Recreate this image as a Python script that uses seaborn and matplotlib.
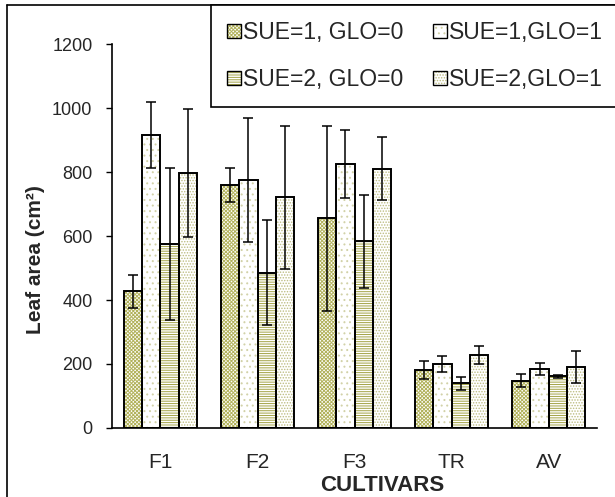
import numpy as np
import pandas as pd
import matplotlib
matplotlib.use('Agg')
import matplotlib.pyplot as plt
import seaborn as sns
from matplotlib.patches import Rectangle, Patch
from matplotlib.lines import Line2D

# values
cultivars = ['F1', 'F2', 'F3', 'TR', 'AV']
groups = ['SUE=1, GLO=0', 'SUE=1,GLO=1', 'SUE=2, GLO=0', 'SUE=2,GLO=1']

g1 = [427, 760, 656, 181, 148]
g2 = [917, 775, 826, 200, 185]
g3 = [575, 486, 584, 139, 161]
g4 = [797, 721, 811, 229, 191]

e1 = [52, 52, 289, 29, 21]
e2 = [103, 193, 106, 26, 19]
e3 = [238, 165, 145, 20, 4]
e4 = [199, 223, 99, 28, 50]

means = [g1, g2, g3, g4]
errs = [e1, e2, e3, e4]

rows = []
for g, vals in zip(groups, means):
    for c, v in zip(cultivars, vals):
        rows.append({'cultivar': c, 'area': v, 'group': g})
df = pd.DataFrame(rows)

sns.set_style('white')
plt.rcParams['font.family'] = ['Liberation Sans', 'DejaVu Sans']
plt.rcParams['hatch.linewidth'] = 0.7

hatches = ['xxxxxxxxx', '...', '-------', '......']
hcolors = ['#b2b25c', '#d2d2a8', '#a3a345', '#bcbc80']

fig, ax = plt.subplots(figsize=(6.15, 4.97), dpi=100)
fig.subplots_adjust(left=0.182, right=0.971, bottom=0.139, top=0.911)

sns.barplot(data=df, x='cultivar', y='area', hue='group', order=cultivars,
            hue_order=groups, errorbar=None, width=0.75, legend=False, ax=ax)

# hatch the bars, outline them in black, add error bars
for cont, h, hc, err in zip(ax.containers, hatches, hcolors, errs):
    xs, ys = [], []
    for bar in cont:
        bar.set_facecolor('white')
        bar.set_edgecolor(hc)
        bar.set_hatch(h)
        bar.set_linewidth(0)
        ax.add_patch(Rectangle((bar.get_x(), 0), bar.get_width(), bar.get_height(),
                               fill=False, edgecolor='black', linewidth=1.4, zorder=3))
        xs.append(bar.get_x() + bar.get_width() / 2)
        ys.append(bar.get_height())
    ax.errorbar(xs, ys, yerr=err, fmt='none', ecolor='black', elinewidth=1.1,
                capsize=3.6, capthick=1.1, zorder=4)

ax.set_ylim(0, 1200)
ax.set_yticks(range(0, 1201, 200))
ax.set_xlim(-0.5, 4.5)
ax.set_xticks(np.arange(-0.5, 5, 1))
ax.set_xticklabels([])
ax.set_xticks(range(5), minor=True)
ax.set_xticklabels(cultivars, minor=True)
ax.tick_params(axis='x', which='major', direction='out', length=5, width=1, color='black')
ax.tick_params(axis='x', which='minor', length=0, pad=18, labelsize=15)
ax.tick_params(axis='y', direction='out', length=4, width=1, color='black',
               labelsize=13, pad=10, left=True)

for s in ['top', 'right']:
    ax.spines[s].set_visible(False)
for s in ['left', 'bottom']:
    ax.spines[s].set_color('black')
    ax.spines[s].set_linewidth(1.2)

ax.set_ylabel('Leaf area (cm²)', fontsize=15, fontweight='bold')
ax.yaxis.set_label_coords(-0.138, 0.44)
ax.set_xlabel('CULTIVARS', fontsize=16, fontweight='bold')
ax.xaxis.set_label_coords(0.557, -0.122)

handles = []
for h, hc in zip(hatches, hcolors):
    handles.append((Patch(facecolor='white', edgecolor=hc, hatch=h, linewidth=0),
                    Patch(facecolor='none', edgecolor='black', linewidth=1)))
# legend fills column-wise, so order entries to read row by row
order = [0, 2, 1, 3]
leg = fig.legend([handles[i] for i in order], [groups[i] for i in order], ncol=2,
                 loc='upper left', bbox_to_anchor=(211 / 615, 1 - 5 / 497),
                 borderaxespad=0, fontsize=16.5,
                 handlelength=0.6, handleheight=0.6, handletextpad=0.1,
                 columnspacing=1.3, labelspacing=1.05, borderpad=0.7,
                 fancybox=False, framealpha=1, edgecolor='black')
leg.get_frame().set_linewidth(1.2)

# outer frame of the figure (left and top edges visible)
fig.add_artist(Line2D([7 / 615, 7 / 615], [0, 1 - 5 / 497], color='black', linewidth=1.2,
                      transform=fig.transFigure))
fig.add_artist(Line2D([7 / 615, 1], [1 - 5 / 497, 1 - 5 / 497], color='black', linewidth=1.2,
                      transform=fig.transFigure))

plt.savefig('out.png', dpi=100)
